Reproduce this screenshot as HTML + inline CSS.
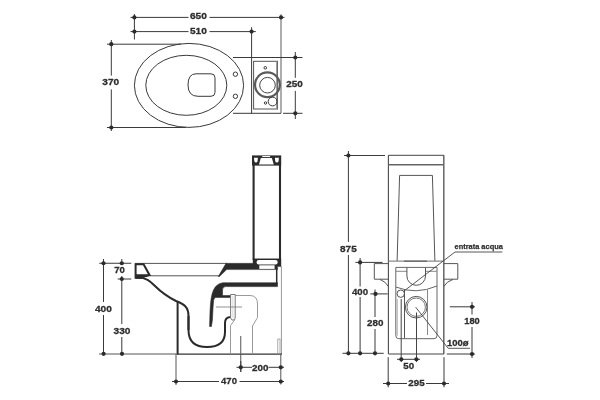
<!DOCTYPE html>
<html><head><meta charset="utf-8"><style>
html,body{margin:0;padding:0;background:#fff;}
svg{display:block;will-change:transform;font-family:"Liberation Sans",sans-serif;}
</style></head><body>
<svg width="600" height="400" viewBox="0 0 600 400">
<rect width="600" height="400" fill="#fff"/>
<line x1="130.5" y1="17.4" x2="188.5" y2="17.4" stroke="#3a3a3a" stroke-width="1"/>
<line x1="209.5" y1="17.4" x2="284.5" y2="17.4" stroke="#3a3a3a" stroke-width="1"/>
<text x="198.40" y="19.35" font-size="9.9" text-anchor="middle" font-weight="bold" fill="#2e2e2e" stroke="#2e2e2e" stroke-width="0.3" textLength="16.90" lengthAdjust="spacingAndGlyphs">650</text>
<line x1="130.5" y1="31.6" x2="188.5" y2="31.6" stroke="#3a3a3a" stroke-width="1"/>
<line x1="209.5" y1="31.6" x2="255.8" y2="31.6" stroke="#3a3a3a" stroke-width="1"/>
<text x="198.40" y="33.75" font-size="9.9" text-anchor="middle" font-weight="bold" fill="#2e2e2e" stroke="#2e2e2e" stroke-width="0.3" textLength="16.90" lengthAdjust="spacingAndGlyphs">510</text>
<line x1="134.4" y1="14" x2="134.4" y2="39.5" stroke="#3a3a3a" stroke-width="1"/>
<line x1="251.6" y1="27.2" x2="251.6" y2="113.3" stroke="#3a3a3a" stroke-width="1"/>
<line x1="281" y1="14.3" x2="281" y2="113.3" stroke="#6a6a6a" stroke-width="1.1"/>
<circle cx="134.4" cy="17.4" r="2.1" fill="#2b2b2b"/>
<circle cx="134.4" cy="31.6" r="2.1" fill="#2b2b2b"/>
<circle cx="281" cy="17.4" r="2.1" fill="#2b2b2b"/>
<circle cx="251.6" cy="31.6" r="2.1" fill="#2b2b2b"/>
<line x1="111.3" y1="40" x2="111.3" y2="75.6" stroke="#3a3a3a" stroke-width="1"/>
<line x1="111.3" y1="89.4" x2="111.3" y2="131" stroke="#3a3a3a" stroke-width="1"/>
<line x1="107" y1="44.2" x2="181" y2="44.2" stroke="#3a3a3a" stroke-width="1"/>
<line x1="107" y1="127.5" x2="186" y2="127.5" stroke="#3a3a3a" stroke-width="1"/>
<circle cx="111.3" cy="44.2" r="2.1" fill="#2b2b2b"/>
<circle cx="111.3" cy="127.5" r="2.1" fill="#2b2b2b"/>
<text x="110.78" y="85.25" font-size="9.9" text-anchor="middle" font-weight="bold" fill="#2e2e2e" stroke="#2e2e2e" stroke-width="0.3" textLength="16.85" lengthAdjust="spacingAndGlyphs">370</text>
<ellipse cx="189" cy="85.4" rx="54.6" ry="42" stroke="#3a3a3a" stroke-width="1" fill="none"/>
<ellipse cx="186.3" cy="85.3" rx="40.5" ry="30" stroke="#3a3a3a" stroke-width="1" fill="none"/>
<path d="M196,73.8 L211,73.8 Q215,73.8 215,77.8 L215,92.3 Q215,96.3 211,96.3 L198,96.3 Q188,96.3 188,85 Q188,73.8 196,73.8 Z" stroke="#3a3a3a" stroke-width="1" fill="none"/>
<circle cx="235.4" cy="74.2" r="2.2" stroke="#3a3a3a" stroke-width="1" fill="none"/>
<circle cx="235.4" cy="96.3" r="2.2" stroke="#3a3a3a" stroke-width="1" fill="none"/>
<line x1="233" y1="57.5" x2="302.5" y2="57.5" stroke="#3a3a3a" stroke-width="1"/>
<line x1="233" y1="113.3" x2="281" y2="113.3" stroke="#3a3a3a" stroke-width="1"/>
<line x1="283" y1="113.3" x2="302.5" y2="113.3" stroke="#3a3a3a" stroke-width="1"/>
<rect x="253.6" y="61.3" width="23.9" height="47.7" rx="0" stroke="#555" stroke-width="1" fill="none"/>
<line x1="276.8" y1="61.3" x2="276.8" y2="109" stroke="#888" stroke-width="1.2"/>
<circle cx="267.4" cy="84.8" r="12.4" stroke="#5a5a5a" stroke-width="2.2" fill="none"/>
<circle cx="267.5" cy="85.2" r="7.8" stroke="#444" stroke-width="1" fill="none"/>
<circle cx="265.3" cy="67.8" r="1.3" stroke="#3a3a3a" stroke-width="1" fill="none"/>
<circle cx="265.5" cy="103" r="1.2" stroke="#3a3a3a" stroke-width="1" fill="none"/>
<circle cx="272.6" cy="101.5" r="4.4" stroke="#3a3a3a" stroke-width="1" fill="none"/>
<line x1="295.3" y1="52" x2="295.3" y2="77.8" stroke="#3a3a3a" stroke-width="1"/>
<line x1="295.3" y1="90.9" x2="295.3" y2="119" stroke="#3a3a3a" stroke-width="1"/>
<circle cx="295.3" cy="57.5" r="2.1" fill="#2b2b2b"/>
<circle cx="295.3" cy="113.3" r="2.1" fill="#2b2b2b"/>
<text x="294.57" y="86.75" font-size="9.9" text-anchor="middle" font-weight="bold" fill="#2e2e2e" stroke="#2e2e2e" stroke-width="0.3" textLength="16.55" lengthAdjust="spacingAndGlyphs">250</text>
<line x1="253.6" y1="164.5" x2="253.6" y2="260" stroke="#2b2b2b" stroke-width="2.1"/>
<line x1="280.0" y1="164.5" x2="280.0" y2="260" stroke="#2b2b2b" stroke-width="2.1"/>
<rect x="252" y="155.4" width="29.2" height="10.2" rx="0" stroke="none" stroke-width="0" fill="#2b2b2b"/>
<path d="M262.2,156 L270.1,156 L270.1,157.1 L262.2,157.1 Z" stroke="none" stroke-width="0" fill="#fff"/>
<path d="M260.8,157.95 L271.8,157.95 L273.8,164.5 L259,164.5 Z" stroke="none" stroke-width="0" fill="#fff"/>
<path d="M254,157.7 L257.9,157.7 L257.6,161 Q257.2,162.5 256,162.5 Q254.6,162.5 254.3,161 Z" stroke="none" stroke-width="0" fill="#fff"/>
<path d="M274.9,157.7 L278.9,157.7 L278.6,161 Q278.2,162.5 277,162.5 Q275.5,162.5 275.2,161 Z" stroke="none" stroke-width="0" fill="#fff"/>
<line x1="135" y1="263.4" x2="227" y2="263.4" stroke="#555" stroke-width="1"/>
<line x1="150" y1="275.8" x2="220" y2="275.8" stroke="#555" stroke-width="1"/>
<path d="M135.6,264.2 L143.6,264.2 L149.6,275.2 L140,277.8 L135.6,277.8 Z" stroke="#2b2b2b" stroke-width="2" fill="none"/>
<path d="M136,274.5 L148,274.5 L140,278.5 L136,278.5 Z" stroke="#2b2b2b" stroke-width="0.5" fill="#2b2b2b"/>
<path d="M138,277.5 C146,277.5 150,281 155,286 C160,291 168,297 176,301 C184,304 188.5,307 188.5,316 L188.5,330" stroke="#2b2b2b" stroke-width="2" fill="none"/>
<path d="M253,258.8 L281,258.8 L281,266.6 L277.6,266.6 L277.6,269.6 L226.7,269.6 L219.5,276.5 L218.2,276.5 L226,263.3 L253,263.3 Z" stroke="#2b2b2b" stroke-width="0.4" fill="#2b2b2b"/>
<rect x="256.6" y="259.9" width="21.1" height="4.5" rx="2.2" stroke="none" stroke-width="0" fill="#fff"/>
<rect x="259.3" y="265.3" width="15.3" height="3.6" rx="0" stroke="none" stroke-width="0" fill="#fff"/>
<line x1="276.7" y1="268.5" x2="276.7" y2="284" stroke="#2b2b2b" stroke-width="1.5"/>
<line x1="281.4" y1="266" x2="281.4" y2="354" stroke="#999" stroke-width="1"/>
<path d="M223,282.8 L277.5,282.8 L277.5,286.6 L225.5,286.6 Q222.5,287 222.5,290 L222.5,295.6 L232,295.6 L232,297.4 L215,297.4 L213.6,300 L213,308 L212.4,320 L211.4,326.5 L209.6,326.5 L210,312 Q210.6,296 213.5,290 Q216.5,283.5 223,282.8 Z" stroke="#2b2b2b" stroke-width="0.6" fill="#2b2b2b"/>
<path d="M188.5,316 L188.5,330 Q188.5,347 207,347 Q225,347 225,332 L225,323 Q225,317 231,317" stroke="#2b2b2b" stroke-width="2" fill="none"/>
<line x1="177.6" y1="301.5" x2="177.6" y2="354.4" stroke="#2b2b2b" stroke-width="2"/>
<line x1="99" y1="354" x2="177" y2="354" stroke="#555" stroke-width="1"/>
<line x1="177" y1="354.2" x2="282" y2="354.2" stroke="#333" stroke-width="1.2"/>
<path d="M235,295.5 L250,295.5 Q257.5,295.5 257.5,304 L257.5,317.5 L252.5,326 L252.5,354" stroke="#999" stroke-width="1" fill="none"/>
<path d="M235,319.5 L230.5,325.5 L230.5,354" stroke="#999" stroke-width="1" fill="none"/>
<path d="M230.6,294.5 L235.2,294.5 L235.2,318 L233.8,320 L232,320 L230.6,318 Z" stroke="#777" stroke-width="1" fill="#fff"/>
<line x1="232.9" y1="296" x2="232.9" y2="318" stroke="#bbb" stroke-width="0.6"/>
<line x1="216" y1="307" x2="242" y2="307" stroke="#777" stroke-width="0.8"/>
<line x1="240.75" y1="336" x2="240.75" y2="372" stroke="#555" stroke-width="1"/>
<rect x="277.8" y="339" width="2.2" height="15" rx="0" stroke="#888" stroke-width="0.7" fill="none"/>
<line x1="103.5" y1="259" x2="103.5" y2="302" stroke="#3a3a3a" stroke-width="1"/>
<line x1="103.5" y1="315" x2="103.5" y2="354" stroke="#3a3a3a" stroke-width="1"/>
<line x1="121.8" y1="259" x2="121.8" y2="265" stroke="#3a3a3a" stroke-width="1"/>
<line x1="121.8" y1="276" x2="121.8" y2="324" stroke="#3a3a3a" stroke-width="1"/>
<line x1="121.8" y1="337" x2="121.8" y2="354" stroke="#3a3a3a" stroke-width="1"/>
<line x1="99.3" y1="263.25" x2="131.3" y2="263.25" stroke="#3a3a3a" stroke-width="1"/>
<line x1="117.7" y1="279" x2="131.3" y2="279" stroke="#3a3a3a" stroke-width="1"/>
<circle cx="103.5" cy="263.25" r="2.1" fill="#2b2b2b"/>
<circle cx="121.8" cy="263.25" r="2.1" fill="#2b2b2b"/>
<circle cx="121.8" cy="279" r="2.1" fill="#2b2b2b"/>
<circle cx="103.6" cy="353.8" r="2.1" fill="#2b2b2b"/>
<circle cx="122" cy="353.8" r="2.1" fill="#2b2b2b"/>
<text x="119.62" y="273.35" font-size="9.9" text-anchor="middle" font-weight="bold" fill="#2e2e2e" stroke="#2e2e2e" stroke-width="0.3" textLength="10.65" lengthAdjust="spacingAndGlyphs">70</text>
<text x="103.40" y="312.15" font-size="9.9" text-anchor="middle" font-weight="bold" fill="#2e2e2e" stroke="#2e2e2e" stroke-width="0.3" textLength="16.90" lengthAdjust="spacingAndGlyphs">400</text>
<text x="122.00" y="334.15" font-size="9.9" text-anchor="middle" font-weight="bold" fill="#2e2e2e" stroke="#2e2e2e" stroke-width="0.3" textLength="16.90" lengthAdjust="spacingAndGlyphs">330</text>
<line x1="176" y1="354" x2="176" y2="385" stroke="#555" stroke-width="1"/>
<line x1="280.8" y1="354" x2="280.8" y2="384.5" stroke="#555" stroke-width="1"/>
<line x1="172" y1="381.5" x2="219" y2="381.5" stroke="#3a3a3a" stroke-width="1"/>
<line x1="239.5" y1="381.5" x2="284" y2="381.5" stroke="#3a3a3a" stroke-width="1"/>
<line x1="236.5" y1="367.3" x2="252" y2="367.3" stroke="#3a3a3a" stroke-width="1"/>
<line x1="268.5" y1="367.3" x2="284" y2="367.3" stroke="#3a3a3a" stroke-width="1"/>
<line x1="240.8" y1="361" x2="240.8" y2="372" stroke="#3a3a3a" stroke-width="1"/>
<circle cx="176" cy="381.5" r="2.1" fill="#2b2b2b"/>
<circle cx="280.8" cy="381.5" r="2.1" fill="#2b2b2b"/>
<circle cx="240.8" cy="367.3" r="2.1" fill="#2b2b2b"/>
<circle cx="280.8" cy="367.3" r="2.1" fill="#2b2b2b"/>
<text x="229.00" y="384.05" font-size="9.9" text-anchor="middle" font-weight="bold" fill="#2e2e2e" stroke="#2e2e2e" stroke-width="0.3" textLength="15.90" lengthAdjust="spacingAndGlyphs">470</text>
<text x="260.25" y="370.75" font-size="9.9" text-anchor="middle" font-weight="bold" fill="#2e2e2e" stroke="#2e2e2e" stroke-width="0.3" textLength="16.40" lengthAdjust="spacingAndGlyphs">200</text>
<line x1="388.4" y1="155.3" x2="388.4" y2="354" stroke="#4a4a4a" stroke-width="1.1"/>
<line x1="443.8" y1="155.3" x2="443.8" y2="354" stroke="#666" stroke-width="1.5"/>
<line x1="388.4" y1="155.3" x2="444" y2="155.3" stroke="#444" stroke-width="1"/>
<line x1="388.4" y1="164.7" x2="444" y2="164.7" stroke="#666" stroke-width="1.5"/>
<path d="M399.6,175.4 L432.4,175.4 L434.9,261.2 M399.6,175.4 L397.1,261.2" stroke="#555" stroke-width="1" fill="none"/>
<line x1="388.4" y1="261.2" x2="444" y2="261.2" stroke="#8a8a8a" stroke-width="1.3"/>
<line x1="404" y1="261.2" x2="427" y2="261.2" stroke="#666" stroke-width="1.3"/>
<path d="M388.4,263.6 L374.3,263.6 L374.3,279.2 L388.4,279.2 M380,279.4 Q385.5,281.5 388.4,286.5" stroke="#555" stroke-width="1" fill="none"/>
<path d="M443.8,263.6 L457.8,263.6 L457.8,279.2 L443.8,279.2 M453,279.4 Q446.5,281.5 443.8,286.5" stroke="#555" stroke-width="1" fill="none"/>
<path d="M395.8,267.4 L437,267.4 L437,335.5 Q437,338.7 434,338.7 L398.8,338.7 Q395.8,338.7 395.8,335.5 Z" stroke="#666" stroke-width="1" fill="none"/>
<line x1="395.8" y1="271.3" x2="407" y2="271.3" stroke="#888" stroke-width="1"/>
<line x1="425.5" y1="271.3" x2="437" y2="271.3" stroke="#888" stroke-width="1"/>
<path d="M406.9,267.4 L406.9,276 A9.3,9.3 0 0 0 425.5,276 L425.5,267.4" stroke="#555" stroke-width="1" fill="none"/>
<path d="M395.8,287 Q416,295 437,286" stroke="#666" stroke-width="1" fill="none"/>
<line x1="427.5" y1="289.5" x2="427.5" y2="335" stroke="#888" stroke-width="1"/>
<line x1="397.2" y1="299" x2="397.2" y2="336" stroke="#aaa" stroke-width="1"/>
<circle cx="400.75" cy="293.7" r="3.7" stroke="#555" stroke-width="1" fill="none"/>
<line x1="401.2" y1="299" x2="401.2" y2="362" stroke="#444" stroke-width="1"/>
<line x1="404.5" y1="290" x2="404.5" y2="338.5" stroke="#555" stroke-width="1"/>
<circle cx="416.2" cy="307.2" r="10.8" stroke="#555" stroke-width="1" fill="none"/>
<circle cx="416.2" cy="307.2" r="9.2" stroke="#777" stroke-width="1" fill="none"/>
<line x1="416.5" y1="312.5" x2="416.5" y2="362" stroke="#444" stroke-width="1"/>
<path d="M404,291 L455,252 L502.4,252" stroke="#444" stroke-width="0.9" fill="none"/>
<path d="M415.7,307.2 L448.2,348.3 L470,348.3" stroke="#444" stroke-width="0.9" fill="none"/>
<text x="478.70" y="249.05" font-size="8.1" text-anchor="middle" font-weight="bold" fill="#2e2e2e" stroke="#2e2e2e" stroke-width="0.25" textLength="48.30" lengthAdjust="spacingAndGlyphs">entrata acqua</text>
<text x="457.85" y="345.75" font-size="9.6" text-anchor="middle" font-weight="bold" fill="#2e2e2e" stroke="#2e2e2e" stroke-width="0.3" textLength="21.60" lengthAdjust="spacingAndGlyphs">100ø</text>
<line x1="388.4" y1="354" x2="444" y2="354" stroke="#444" stroke-width="1"/>
<line x1="348.4" y1="151" x2="348.4" y2="242" stroke="#3a3a3a" stroke-width="1"/>
<line x1="348.4" y1="255" x2="348.4" y2="354" stroke="#3a3a3a" stroke-width="1"/>
<line x1="360.1" y1="258" x2="360.1" y2="286.5" stroke="#3a3a3a" stroke-width="1"/>
<line x1="360.1" y1="297" x2="360.1" y2="354" stroke="#3a3a3a" stroke-width="1"/>
<line x1="375" y1="289.5" x2="375" y2="317" stroke="#3a3a3a" stroke-width="1"/>
<line x1="375" y1="329" x2="375" y2="354" stroke="#3a3a3a" stroke-width="1"/>
<line x1="344" y1="155.5" x2="385" y2="155.5" stroke="#3a3a3a" stroke-width="1"/>
<line x1="355.4" y1="262.4" x2="382.5" y2="262.4" stroke="#3a3a3a" stroke-width="1"/>
<line x1="370.3" y1="293.9" x2="387.7" y2="293.9" stroke="#3a3a3a" stroke-width="1"/>
<line x1="342.5" y1="353.3" x2="383.7" y2="353.3" stroke="#3a3a3a" stroke-width="1"/>
<circle cx="348.4" cy="155.5" r="2.1" fill="#2b2b2b"/>
<circle cx="348.4" cy="353.3" r="2.1" fill="#2b2b2b"/>
<circle cx="360.1" cy="262.4" r="2.1" fill="#2b2b2b"/>
<circle cx="360.1" cy="353.3" r="2.1" fill="#2b2b2b"/>
<circle cx="375.5" cy="293.9" r="2.1" fill="#2b2b2b"/>
<circle cx="375" cy="353.3" r="2.1" fill="#2b2b2b"/>
<text x="348.38" y="251.95" font-size="9.9" text-anchor="middle" font-weight="bold" fill="#2e2e2e" stroke="#2e2e2e" stroke-width="0.3" textLength="16.65" lengthAdjust="spacingAndGlyphs">875</text>
<text x="360.00" y="294.85" font-size="9.9" text-anchor="middle" font-weight="bold" fill="#2e2e2e" stroke="#2e2e2e" stroke-width="0.3" textLength="16.10" lengthAdjust="spacingAndGlyphs">400</text>
<text x="375.25" y="325.65" font-size="9.9" text-anchor="middle" font-weight="bold" fill="#2e2e2e" stroke="#2e2e2e" stroke-width="0.3" textLength="16.40" lengthAdjust="spacingAndGlyphs">280</text>
<line x1="388.2" y1="357.2" x2="388.2" y2="387.3" stroke="#3a3a3a" stroke-width="1"/>
<line x1="444" y1="357.2" x2="444" y2="387.3" stroke="#3a3a3a" stroke-width="1"/>
<line x1="383" y1="383.5" x2="407" y2="383.5" stroke="#3a3a3a" stroke-width="1"/>
<line x1="426" y1="383.5" x2="449" y2="383.5" stroke="#3a3a3a" stroke-width="1"/>
<circle cx="388.2" cy="383.5" r="2.1" fill="#2b2b2b"/>
<circle cx="444" cy="383.5" r="2.1" fill="#2b2b2b"/>
<text x="416.48" y="385.85" font-size="9.9" text-anchor="middle" font-weight="bold" fill="#2e2e2e" stroke="#2e2e2e" stroke-width="0.3" textLength="16.35" lengthAdjust="spacingAndGlyphs">295</text>
<line x1="397" y1="359.3" x2="420" y2="359.3" stroke="#3a3a3a" stroke-width="1"/>
<circle cx="401.3" cy="359.3" r="2.1" fill="#2b2b2b"/>
<circle cx="416.4" cy="359.3" r="2.1" fill="#2b2b2b"/>
<text x="408.75" y="368.85" font-size="9.9" text-anchor="middle" font-weight="bold" fill="#2e2e2e" stroke="#2e2e2e" stroke-width="0.3" textLength="10.80" lengthAdjust="spacingAndGlyphs">50</text>
<line x1="472" y1="302" x2="472" y2="314.5" stroke="#3a3a3a" stroke-width="1"/>
<line x1="472" y1="327" x2="472" y2="358" stroke="#3a3a3a" stroke-width="1"/>
<line x1="449.8" y1="306.8" x2="475" y2="306.8" stroke="#3a3a3a" stroke-width="1"/>
<line x1="446.8" y1="354" x2="475" y2="354" stroke="#3a3a3a" stroke-width="1"/>
<circle cx="472" cy="306.8" r="2.1" fill="#2b2b2b"/>
<circle cx="472" cy="354" r="2.1" fill="#2b2b2b"/>
<text x="472.02" y="324.05" font-size="9.9" text-anchor="middle" font-weight="bold" fill="#2e2e2e" stroke="#2e2e2e" stroke-width="0.3" textLength="15.45" lengthAdjust="spacingAndGlyphs">180</text>
</svg></body></html>
